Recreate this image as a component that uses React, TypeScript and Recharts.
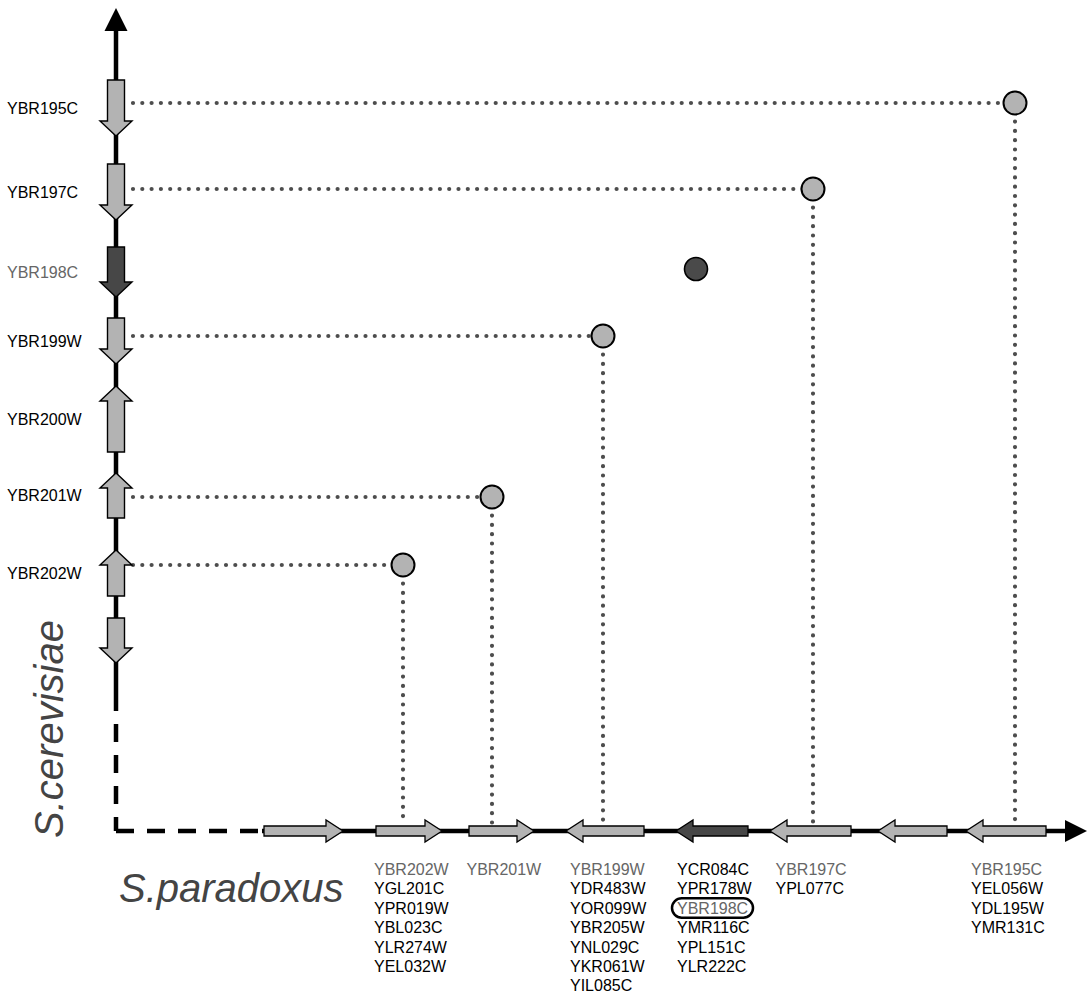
import React from 'react';
import {
  ScatterChart,
  XAxis,
  YAxis,
  Scatter,
  ReferenceLine,
  ReferenceArea,
  ReferenceDot,
} from 'recharts';

// ---------- DATA ----------
const FOCUS = 'YBR198C';

// S. cerevisiae genes along the vertical axis (position units, increasing downward)
const cerevisiaeNames = ['YBR195C', 'YBR197C', 'YBR198C', 'YBR199W', 'YBR200W', 'YBR201W', 'YBR202W', ''];
const cerevisiaeStart = [80, 164, 247, 318, 386, 473, 550, 618];
const cerevisiaeEnd = [136, 220, 297, 364, 452, 518, 596, 663];
const cerevisiaeDir = ['down', 'down', 'down', 'down', 'up', 'up', 'up', 'down'];
const cerevisiaeContigEnd = 693;

// S. paradoxus genes along the horizontal axis (position units, increasing rightward)
const paradoxusStart = [148, 260, 353, 450, 560, 654, 762, 850];
const paradoxusEnd = [227, 326, 418, 528, 632, 735, 831, 930];
const paradoxusDir = ['right', 'right', 'right', 'left', 'left', 'left', 'left', 'left'];
const paradoxusHits: string[][] = [
  [],
  ['YBR202W', 'YGL201C', 'YPR019W', 'YBL023C', 'YLR274W', 'YEL032W'],
  ['YBR201W'],
  ['YBR199W', 'YDR483W', 'YOR099W', 'YBR205W', 'YNL029C', 'YKR061W', 'YIL085C'],
  ['YCR084C', 'YPR178W', 'YBR198C', 'YMR116C', 'YPL151C', 'YLR222C'],
  ['YBR197C', 'YPL077C'],
  [],
  ['YBR195C', 'YEL056W', 'YDL195W', 'YMR131C'],
];
const paradoxusContigStart = 146;

// Ortholog matches (paradoxus position, cerevisiae position)
const orthologNames = ['YBR202W', 'YBR201W', 'YBR199W', 'YBR198C', 'YBR197C', 'YBR195C'];
const orthologX = [287, 376, 487, 580, 697, 899];
const orthologY = [565, 497, 336, 269, 189, 103];

// Axis extents
const X_DOMAIN = [0, 974];
const Y_DOMAIN = [0, 831];
const X_ARROW_TIP = 971;
const Y_ARROW_TIP = 8;
const DOT_LINE_START = 17;
const DOT_LINE_END = 825;

// ---------- DERIVED ----------
const cerevisiaeGenes = cerevisiaeNames.map((name, i) => ({
  name,
  start: cerevisiaeStart[i],
  end: cerevisiaeEnd[i],
  dir: cerevisiaeDir[i],
  center: (cerevisiaeStart[i] + cerevisiaeEnd[i]) / 2,
}));
const paradoxusGenes = paradoxusStart.map((s, i) => ({
  start: s,
  end: paradoxusEnd[i],
  dir: paradoxusDir[i],
  hits: paradoxusHits[i],
  center: (s + paradoxusEnd[i]) / 2,
}));
const orthologs = orthologNames.map((name, i) => ({ name, x: orthologX[i], y: orthologY[i] }));

const yTicks = cerevisiaeGenes.filter((g) => g.name).map((g) => g.center);
const xTicks = paradoxusGenes.filter((g) => g.hits.length).map((g) => g.center);

// ---------- STYLE ----------
const FONT = '"Liberation Sans", Arial, Helvetica, sans-serif';
const LIGHT = '#b3b3b3';
const DARK = '#474747';
const GRAY_TEXT = '#666666';
const DOT_COLOR = '#4d4d4d';

const LeftTick = (props: any) => {
  const { y, payload } = props;
  const g = cerevisiaeGenes.find((c) => Math.abs(c.center - payload.value) < 0.01);
  if (!g) return null;
  return (
    <text x={7} y={y + 5.7} fontSize={16} fontFamily={FONT} fill={g.name === FOCUS ? GRAY_TEXT : '#000'}>
      {g.name}
    </text>
  );
};

const BottomTick = (props: any) => {
  const { x, y, payload } = props;
  const g = paradoxusGenes.find((p) => Math.abs(p.center - payload.value) < 0.01);
  if (!g) return null;
  const tx = x - 35;
  return (
    <g>
      {g.hits.map((name, i) => {
        const ty = y + 44 + i * 19.4;
        const gray = cerevisiaeNames.includes(name);
        return (
          <g key={name}>
            {name === FOCUS && (
              <rect x={tx - 5} y={ty - 15.5} width={81} height={19.5} rx={9.75} fill="none" stroke="#000" strokeWidth={2.5} />
            )}
            <text x={tx} y={ty} fontSize={16} fontFamily={FONT} fill={gray ? GRAY_TEXT : '#000'}>
              {name}
            </text>
          </g>
        );
      })}
    </g>
  );
};

const YTitle = (props: any) => {
  const vb = props.viewBox || { x: 0, y: 0, width: 116, height: 831 };
  const tx = vb.x + 63;
  const ty = vb.y + vb.height - 102;
  return (
    <text
      x={tx}
      y={ty}
      transform={`rotate(-90 ${tx} ${ty})`}
      textAnchor="middle"
      fontSize={40}
      fontStyle="italic"
      fontFamily={FONT}
      fill="#444"
    >
      S.cerevisiae
    </text>
  );
};

const XTitle = (props: any) => {
  const vb = props.viewBox || { x: 116, y: 831, width: 974, height: 162 };
  return (
    <text x={vb.x + 3} y={vb.y + 71} fontSize={40} fontStyle="italic" fontFamily={FONT} fill="#444">
      S.paradoxus
    </text>
  );
};

const vGeneShape = (dir: string, fill: string) => (p: any) => {
  const ax = p.x;
  const top = p.y;
  const bot = p.y + p.height;
  const bw = 8.5;
  const hw = 16;
  const hl = 15;
  let pts: number[][];
  if (dir === 'down') {
    const hb = bot - hl;
    pts = [[ax - bw, top], [ax + bw, top], [ax + bw, hb], [ax + hw, hb], [ax, bot], [ax - hw, hb], [ax - bw, hb]];
  } else {
    const hb = top + hl;
    pts = [[ax - bw, bot], [ax + bw, bot], [ax + bw, hb], [ax + hw, hb], [ax, top], [ax - hw, hb], [ax - bw, hb]];
  }
  return <polygon points={pts.map((q) => q.join(',')).join(' ')} fill={fill} stroke="#000" strokeWidth={1.4} />;
};

const hGeneShape = (dir: string, fill: string) => (p: any) => {
  const ay = p.y + p.height;
  const l = p.x;
  const r = p.x + p.width;
  const bh = 5;
  const hh = 11;
  const hl = 17;
  let pts: number[][];
  if (dir === 'right') {
    const hb = r - hl;
    pts = [[l, ay - bh], [hb, ay - bh], [hb, ay - hh], [r, ay], [hb, ay + hh], [hb, ay + bh], [l, ay + bh]];
  } else {
    const hb = l + hl;
    pts = [[r, ay - bh], [hb, ay - bh], [hb, ay - hh], [l, ay], [hb, ay + hh], [hb, ay + bh], [r, ay + bh]];
  }
  return <polygon points={pts.map((q) => q.join(',')).join(' ')} fill={fill} stroke="#000" strokeWidth={1.3} />;
};

const UpHead = (p: any) => (
  <polygon
    points={`${p.cx},${p.cy} ${p.cx + 11.5},${p.cy + 23} ${p.cx - 11.5},${p.cy + 23}`}
    fill="#000"
  />
);
const RightHead = (p: any) => (
  <polygon
    points={`${p.cx},${p.cy} ${p.cx - 22},${p.cy - 11} ${p.cx - 22},${p.cy + 11}`}
    fill="#000"
  />
);

const CircleShape = (p: any) => {
  const focus = p.payload && p.payload.name === FOCUS;
  return (
    <circle
      cx={p.cx}
      cy={p.cy}
      r={11.5}
      fill={focus ? '#4a4a4a' : LIGHT}
      stroke="#000"
      strokeWidth={focus ? 1.6 : 2}
    />
  );
};

export default function App() {
  const W = 1090;
  const H = 993;
  const Y_AXIS_POS = Y_DOMAIN[1];
  return (
    <div style={{ position: 'absolute', left: 0, top: 0, width: W, height: H, background: '#fff' }}>
      <ScatterChart width={W} height={H} margin={{ top: 0, right: 0, bottom: 0, left: 0 }}>
        <XAxis
          type="number"
          dataKey="x"
          domain={X_DOMAIN}
          ticks={xTicks}
          interval={0}
          height={162}
          axisLine={false}
          tickLine={false}
          tickSize={0}
          tickMargin={0}
          tick={(p: any) => <BottomTick {...p} />}
          label={<XTitle />}
          allowDataOverflow
        />
        <YAxis
          type="number"
          dataKey="y"
          domain={Y_DOMAIN}
          reversed
          ticks={yTicks}
          interval={0}
          width={116}
          axisLine={false}
          tickLine={false}
          tickSize={0}
          tickMargin={0}
          tick={(p: any) => <LeftTick {...p} />}
          label={<YTitle />}
          allowDataOverflow
        />

        {/* chromosome axes */}
        <ReferenceLine
          segment={[{ x: 0, y: Y_ARROW_TIP + 20 }, { x: 0, y: cerevisiaeContigEnd }]}
          stroke="#000"
          strokeWidth={4.5}
          ifOverflow="visible"
          zIndex={100}
        />
        <ReferenceLine
          segment={[{ x: 0, y: cerevisiaeContigEnd }, { x: 0, y: Y_AXIS_POS }]}
          stroke="#000"
          strokeWidth={4.5}
          strokeDasharray="18 13"
          ifOverflow="visible"
          zIndex={100}
        />
        <ReferenceLine
          segment={[{ x: 0, y: Y_AXIS_POS }, { x: paradoxusContigStart, y: Y_AXIS_POS }]}
          stroke="#000"
          strokeWidth={4.5}
          strokeDasharray="18 13"
          ifOverflow="visible"
          zIndex={100}
        />
        <ReferenceLine
          segment={[{ x: paradoxusContigStart, y: Y_AXIS_POS }, { x: X_ARROW_TIP - 20, y: Y_AXIS_POS }]}
          stroke="#000"
          strokeWidth={4.5}
          ifOverflow="visible"
          zIndex={100}
        />

        {/* dotted ortholog connectors */}
        {orthologs
          .filter((o) => o.name !== FOCUS)
          .map((o) => (
            <ReferenceLine
              key={'h' + o.name}
              segment={[{ x: DOT_LINE_START, y: o.y }, { x: o.x, y: o.y }]}
              stroke={DOT_COLOR}
              strokeWidth={4.2}
              strokeDasharray="0 9.3"
              strokeLinecap="round"
              ifOverflow="visible"
              zIndex={150}
            />
          ))}
        {orthologs
          .filter((o) => o.name !== FOCUS)
          .map((o) => (
            <ReferenceLine
              key={'v' + o.name}
              segment={[{ x: o.x, y: o.y }, { x: o.x, y: DOT_LINE_END }]}
              stroke={DOT_COLOR}
              strokeWidth={4.2}
              strokeDasharray="0 9.3"
              strokeLinecap="round"
              ifOverflow="visible"
              zIndex={150}
            />
          ))}

        {/* genes */}
        {cerevisiaeGenes.map((g, i) => (
          <ReferenceArea
            key={'c' + i}
            y1={g.start}
            y2={g.end}
            ifOverflow="visible"
            shape={vGeneShape(g.dir, g.name === FOCUS ? DARK : LIGHT)}
            zIndex={300}
          />
        ))}
        {paradoxusGenes.map((g, i) => (
          <ReferenceArea
            key={'p' + i}
            x1={g.start}
            x2={g.end}
            ifOverflow="visible"
            shape={hGeneShape(g.dir, g.hits.includes(FOCUS) ? DARK : LIGHT)}
            zIndex={300}
          />
        ))}

        {/* arrow heads */}
        <ReferenceDot x={0} y={Y_ARROW_TIP} ifOverflow="visible" shape={UpHead} zIndex={300} />
        <ReferenceDot x={X_ARROW_TIP} y={Y_AXIS_POS} ifOverflow="visible" shape={RightHead} zIndex={300} />

        <Scatter data={orthologs} shape={CircleShape} isAnimationActive={false} zIndex={600} />
      </ScatterChart>
    </div>
  );
}
